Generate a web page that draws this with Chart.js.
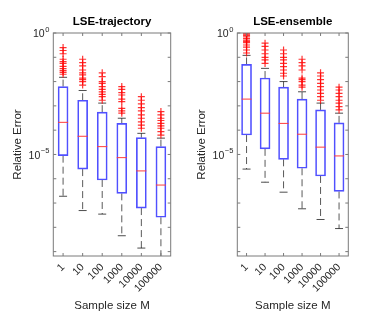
<!DOCTYPE html>
<html>
<head>
<meta charset="utf-8">
<script src="https://cdn.jsdelivr.net/npm/chart.js@4.4.1/dist/chart.umd.min.js"></script>
<style>
  html, body { margin: 0; padding: 0; background: #fff; }
  #wrap { position: relative; width: 366px; height: 322px; overflow: hidden; }
  .panel { position: absolute; top: 0; }
</style>
</head>
<body>
<div id="wrap">
  <canvas id="traj" class="panel" style="left:0" width="180" height="322"></canvas>
  <canvas id="ens" class="panel" style="left:184px" width="182" height="322"></canvas>
</div>
<script>
const sampleSizes = ['1', '10', '100', '1000', '10000', '100000'];
const yTicks = [1, 1e-5];

// LSE-trajectory
const trajHi  = [1.5e-2, 4.3e-3, 1.3e-3, 3.1e-4, 7.4e-5, 4.7e-5];
const trajQ3  = [6.2e-3, 1.7e-3, 5.5e-4, 1.9e-4, 4.9e-5, 2.1e-5];
const trajMed = [2.1e-4, 5.6e-5, 2.1e-5, 7.4e-6, 2.1e-6, 5.5e-7];
const trajQ1  = [8.9e-6, 2.5e-6, 8.9e-7, 2.5e-7, 6.2e-8, 2.6e-8];
const trajLo  = [1.9e-7, 4.9e-8, 3.5e-8, 4.5e-9, 1.4e-9, 5e-10];
const trajOut = [
  [0.25, 0.19, 0.14, 0.083, 0.066, 0.056, 0.042, 0.034, 0.028, 0.024, 0.020],
  [0.083, 0.060, 0.044, 0.030, 0.023, 0.019, 0.014, 0.012, 0.010, 7.2e-3],
  [0.023, 0.016, 0.010, 8.5e-3, 6.2e-3, 4.8e-3, 3.8e-3, 3.0e-3, 2.4e-3, 1.7e-3],
  [6.2e-3, 4.8e-3, 3.5e-3, 2.8e-3, 1.9e-3, 1.5e-3, 7.9e-4, 6.2e-4, 5.0e-4],
  [2.4e-3, 1.7e-3, 1.2e-3, 8.5e-4, 6.2e-4, 4.3e-4, 3.1e-4, 2.2e-4, 1.6e-4, 1.2e-4],
  [5.8e-4, 4.3e-4, 3.1e-4, 2.5e-4, 1.9e-4, 1.5e-4, 1.2e-4, 8.7e-5, 6.3e-5]
];

// LSE-ensemble
const ensHi  = [0.12, 0.035, 0.010, 3.8e-3, 1.3e-3, 5.0e-4];
const ensQ3  = [0.051, 0.014, 5.9e-3, 1.9e-3, 6.8e-4, 2.0e-4];
const ensMed = [1.9e-3, 5.0e-4, 1.9e-4, 6.8e-5, 2.0e-5, 8.7e-6];
const ensQ1  = [6.3e-5, 1.7e-5, 6.3e-6, 2.7e-6, 1.3e-6, 3.0e-7];
const ensLo  = [2.5e-6, 7.2e-7, 2.8e-7, 5.8e-8, 2.1e-8, 8.9e-9];
const ensOut = [
  [0.98, 0.9, 0.8, 0.7, 0.6, 0.51, 0.45, 0.40, 0.32, 0.26, 0.20, 0.15],
  [0.38, 0.28, 0.20, 0.14, 0.10, 0.078, 0.056],
  [0.20, 0.14, 0.10, 0.078, 0.056, 0.041, 0.030, 0.022, 0.017],
  [0.083, 0.060, 0.044, 0.030, 0.014, 0.012, 0.010, 7.2e-3, 5.9e-3],
  [0.023, 0.017, 0.012, 8.5e-3, 6.2e-3, 4.5e-3, 3.3e-3, 2.4e-3, 1.7e-3],
  [5.9e-3, 4.5e-3, 3.3e-3, 2.4e-3, 1.7e-3, 1.3e-3, 9.3e-4, 6.8e-4]
];

const FONT = "'Liberation Sans', Arial, sans-serif";
const AXIS = '#262626';

// box frame, inward ticks, 10^n labels and the title
const framePlugin = {
  id: 'frame',
  afterDraw(chart, args, opts) {
    const { ctx, chartArea: a, scales: { x, y } } = chart;
    ctx.save();
    ctx.strokeStyle = '#7a7a7a';
    ctx.lineWidth = 1;
    ctx.strokeRect(a.left, a.top, a.right - a.left, a.bottom - a.top);
    ctx.beginPath();
    for (let e = 0; e >= -9; e--) {
      const py = y.getPixelForValue(Math.pow(10, e));
      ctx.moveTo(a.left, py); ctx.lineTo(a.left + 3, py);
      ctx.moveTo(a.right, py); ctx.lineTo(a.right - 3, py);
    }
    sampleSizes.forEach((s, i) => {
      const px = x.getPixelForValue(i);
      ctx.moveTo(px, a.bottom); ctx.lineTo(px, a.bottom - 3);
      ctx.moveTo(px, a.top); ctx.lineTo(px, a.top + 3);
    });
    ctx.stroke();

    ctx.fillStyle = AXIS;
    ctx.textBaseline = 'middle';
    yTicks.forEach(v => {
      const py = y.getPixelForValue(v);
      const ex = String(Math.round(Math.log10(v))).replace('-', '\u2212');
      ctx.font = '7.5px ' + FONT;
      const w = ctx.measureText(ex).width;
      const right = a.left - 4;
      ctx.textAlign = 'left';
      ctx.fillText(ex, right - w, py - 3.5);
      ctx.font = '10.5px ' + FONT;
      ctx.textAlign = 'right';
      ctx.fillText('10', right - w - 0.5, py + 1.5);
    });

    ctx.fillStyle = '#000';
    ctx.font = 'bold 11.5px ' + FONT;
    ctx.textAlign = 'center';
    ctx.fillText(opts.title, (a.left + a.right) / 2, 21.7);
    ctx.restore();
  }
};

function makePanel(id, title, lo, q1, med, q3, hi, out, padRight) {
  const whiskers = [];
  const caps = [];
  const medians = [];
  const outliers = [];
  sampleSizes.forEach((s, i) => {
    whiskers.push({ x: s, y: q3[i] }, { x: s, y: hi[i] }, { x: s, y: null });
    whiskers.push({ x: s, y: q1[i] }, { x: s, y: lo[i] }, { x: s, y: null });
    caps.push({ x: s, y: hi[i] }, { x: s, y: lo[i] });
    medians.push({ x: s, y: med[i] });
    out[i].forEach(v => outliers.push({ x: s, y: v }));
  });

  new Chart(document.getElementById(id), {
    type: 'bar',
    data: {
      labels: sampleSizes,
      datasets: [
        {
          type: 'line',
          data: whiskers,
          borderColor: 'rgba(0,0,0,0.65)',
          borderWidth: 1,
          borderDash: [7, 4],
          pointRadius: 0,
          spanGaps: false,
          order: 4
        },
        {
          type: 'line',
          data: caps,
          showLine: false,
          pointStyle: 'line',
          pointRadius: 4,
          pointBorderWidth: 1,
          pointBorderColor: 'rgba(0,0,0,0.7)',
          order: 3
        },
        {
          data: sampleSizes.map((s, i) => [q1[i], q3[i]]),
          backgroundColor: 'rgba(0,0,0,0)',
          borderColor: 'rgb(80,80,255)',
          borderWidth: 1,
          borderSkipped: false,
          barThickness: 10,
          order: 2
        },
        {
          type: 'line',
          data: medians,
          showLine: false,
          pointStyle: 'line',
          pointRadius: 5,
          pointBorderWidth: 1,
          pointBorderColor: 'rgb(255,60,60)',
          order: 1
        },
        {
          type: 'line',
          data: outliers,
          showLine: false,
          pointStyle: 'cross',
          pointRadius: 3.5,
          pointBorderWidth: 1.2,
          pointBorderColor: 'rgba(255,0,0,0.8)',
          order: 0
        }
      ]
    },
    options: {
      responsive: false,
      animation: false,
      events: [],
      layout: { padding: { top: 33, right: padRight, left: 0, bottom: 0 } },
      plugins: {
        legend: { display: false },
        tooltip: { enabled: false },
        frame: { title: title }
      },
      scales: {
        x: {
          type: 'category',
          offset: true,
          grid: { display: false, drawTicks: false },
          border: { display: false },
          ticks: {
            autoSkip: false,
            minRotation: 45,
            maxRotation: 45,
            padding: 5,
            color: AXIS,
            font: { family: FONT, size: 10.5 }
          },
          title: {
            display: true,
            text: 'Sample size M',
            color: AXIS,
            padding: 9,
            font: { family: FONT, size: 11.5 }
          },
          afterFit(scale) { scale.height = 66; }
        },
        y: {
          type: 'logarithmic',
          min: 6.6e-10,
          max: 1,
          grid: { display: false, drawTicks: false },
          border: { display: false },
          ticks: { display: false },
          title: {
            display: true,
            text: 'Relative Error',
            color: AXIS,
            padding: 11.1,
            font: { family: FONT, size: 11.5 }
          },
          afterFit(scale) { scale.width = 53.3; }
        }
      }
    },
    plugins: [framePlugin]
  });
}

makePanel('traj', 'LSE-trajectory', trajLo, trajQ1, trajMed, trajQ3, trajHi, trajOut, 9.3);
makePanel('ens', 'LSE-ensemble', ensLo, ensQ1, ensMed, ensQ3, ensHi, ensOut, 17.7);
</script>
</body>
</html>
